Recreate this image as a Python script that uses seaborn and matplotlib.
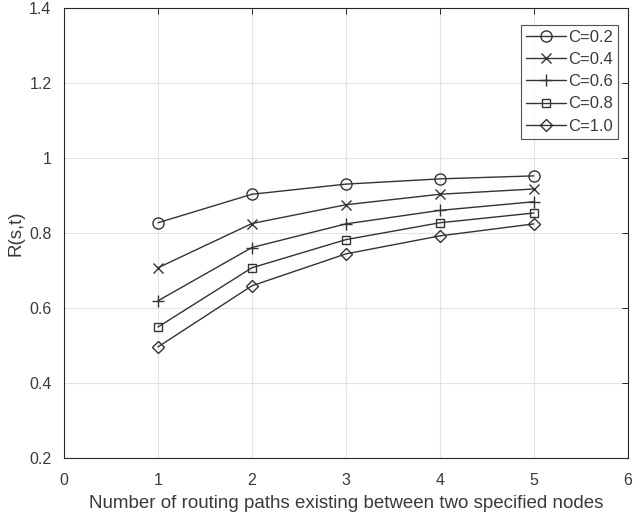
import numpy as np
import pandas as pd
import matplotlib
matplotlib.use("Agg")
import matplotlib.pyplot as plt
import seaborn as sns

paths = [1, 2, 3, 4, 5]
r_c02 = [0.827, 0.903, 0.930, 0.944, 0.952]
r_c04 = [0.707, 0.825, 0.875, 0.903, 0.917]
r_c06 = [0.619, 0.761, 0.824, 0.860, 0.883]
r_c08 = [0.549, 0.707, 0.782, 0.827, 0.853]
r_c10 = [0.496, 0.659, 0.744, 0.792, 0.824]
labels = ["C=0.2", "C=0.4", "C=0.6", "C=0.8", "C=1.0"]
markers = ["o", "x", "+", "s", "D"]
msizes = [8, 6.5, 8, 5.5, 6]

sns.set_style("white")
plt.rcParams["font.family"] = ["Liberation Sans", "DejaVu Sans"]

fig = plt.figure(figsize=(6.38, 5.21), dpi=100)
ax = fig.add_axes([0.1003, 0.121, 0.8837, 0.864])

for vals, lab, m, ms in zip([r_c02, r_c04, r_c06, r_c08, r_c10], labels, markers, msizes):
    df = pd.DataFrame({"paths": paths, "R": vals})
    sns.lineplot(data=df, x="paths", y="R", ax=ax, label=lab, color="#333333",
                 linewidth=1.0, marker=m, markersize=ms, markerfacecolor="none",
                 markeredgecolor="#333333", markeredgewidth=1.0)

ax.set_xlim(0, 6)
ax.set_ylim(0.2, 1.4)
ax.set_xticks(range(0, 7))
ax.set_yticks([0.2, 0.4, 0.6, 0.8, 1.0, 1.2, 1.4])
ax.set_yticklabels(["0.2", "0.4", "0.6", "0.8", "1", "1.2", "1.4"])
ax.grid(True, color="#e3e3e3", linewidth=0.8)
ax.set_axisbelow(True)
for s in ax.spines.values():
    s.set_color("#262626")
    s.set_linewidth(0.8)
ax.tick_params(direction="in", length=4, width=0.7, colors="#262626",
               labelsize=11.5, top=True, right=True, labelcolor="#3a3a3a")
ax.tick_params(axis="x", pad=11)
ax.tick_params(axis="y", pad=9)
ax.set_xlabel("Number of routing paths existing between two specified nodes",
              fontsize=13.5, color="#3a3a3a", labelpad=5)
ax.set_ylabel("R(s,t)", fontsize=13.5, color="#3a3a3a", labelpad=3)

leg = ax.legend(loc="upper right", bbox_to_anchor=(0.982, 0.962), frameon=True,
                fancybox=False, edgecolor="#262626", fontsize=12,
                handlelength=2.4, handletextpad=0.1, labelspacing=0.43,
                borderpad=0.3, borderaxespad=0)
leg.get_frame().set_linewidth(0.8)
for t in leg.get_texts():
    t.set_color("#3a3a3a")

fig.savefig("out.png", dpi=100)
